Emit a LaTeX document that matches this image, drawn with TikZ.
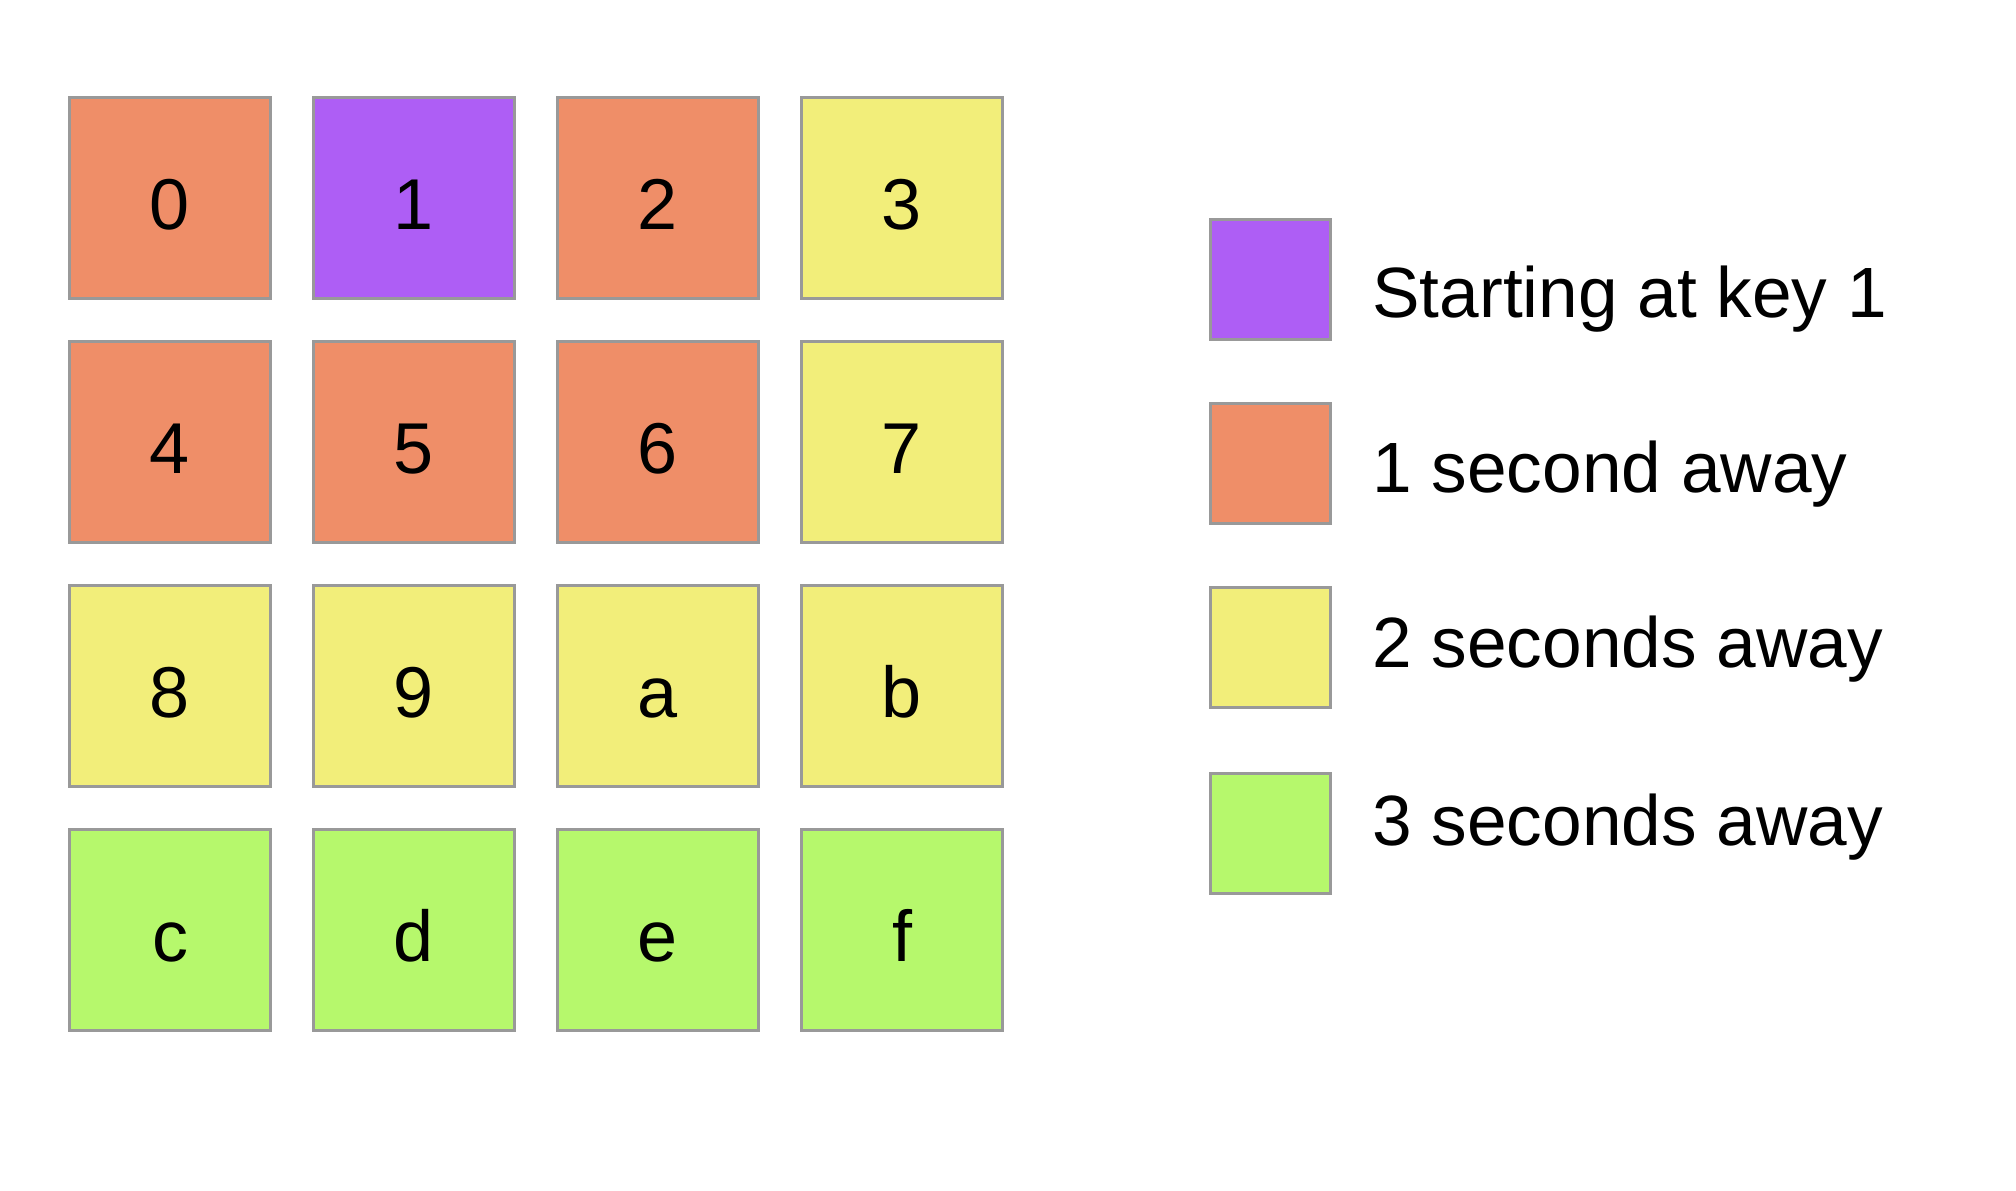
\documentclass[tikz,border=0pt]{standalone}
\usepackage{fontspec}
\setmainfont{Liberation Sans}
\usepackage{tikz}
\usetikzlibrary{positioning}

\definecolor{startcol}{RGB}{174,94,245}
\definecolor{onecol}{RGB}{239,142,104}
\definecolor{twocol}{RGB}{242,238,122}
\definecolor{threecol}{RGB}{182,248,108}
\definecolor{edgecol}{RGB}{153,153,153}

\tikzset{
    keybox/.style={draw=edgecol, line width=1.5pt, rectangle, minimum size=100.5pt, inner sep=0pt,
        text height=31.5pt, text depth=0pt, font=\fontsize{36}{43}\selectfont},
    legbox/.style={draw=edgecol, line width=1.5pt, rectangle, minimum size=60pt, inner sep=0pt},
    legtext/.style={anchor=base west, inner sep=0pt, font=\fontsize{35.6}{43}\selectfont}
}

\begin{document}
\begin{tikzpicture}[node distance=122pt]

    \useasboundingbox (0pt,0pt) rectangle (1008pt,-595pt);

    % Keypad, first row
    \node [keybox, fill=onecol] (k0) at (85pt,-99pt) {0};
    \node [keybox, fill=startcol, right of=k0] (k1) {1};
    \node [keybox, fill=onecol, right of=k1] (k2) {2};
    \node [keybox, fill=twocol, right of=k2] (k3) {3};

    % Second row
    \node [keybox, fill=onecol, below of=k0] (k4) {4};
    \node [keybox, fill=onecol, right of=k4] (k5) {5};
    \node [keybox, fill=onecol, right of=k5] (k6) {6};
    \node [keybox, fill=twocol, right of=k6] (k7) {7};

    % Third row
    \node [keybox, fill=twocol, below of=k4] (k8) {8};
    \node [keybox, fill=twocol, right of=k8] (k9) {9};
    \node [keybox, fill=twocol, right of=k9] (ka) {a};
    \node [keybox, fill=twocol, right of=ka] (kb) {b};

    % Fourth row
    \node [keybox, fill=threecol, below of=k8] (kc) {c};
    \node [keybox, fill=threecol, right of=kc] (kd) {d};
    \node [keybox, fill=threecol, right of=kd] (ke) {e};
    \node [keybox, fill=threecol, right of=ke] (kf) {f};

    % Legend
    \node [legbox, fill=startcol] (legstart) at (635pt,-139.5pt) {};
    \node [legbox, fill=onecol, below of=legstart, node distance=92pt] (legone) {};
    \node [legbox, fill=twocol, below of=legone, node distance=92.3pt] (legtwo) {};
    \node [legbox, fill=threecol, below of=legtwo, node distance=92.7pt] (legthree) {};

    % Legend texts
    \node [legtext] (txtstart) at (686pt,-158.5pt) {Starting at key 1};
    \node [legtext] (txtone) at (686pt,-246pt) {1 second away};
    \node [legtext] (txttwo) at (686pt,-333.5pt) {2 seconds away};
    \node [legtext] (txtthree) at (686pt,-422.5pt) {3 seconds away};

\end{tikzpicture}
\end{document}
